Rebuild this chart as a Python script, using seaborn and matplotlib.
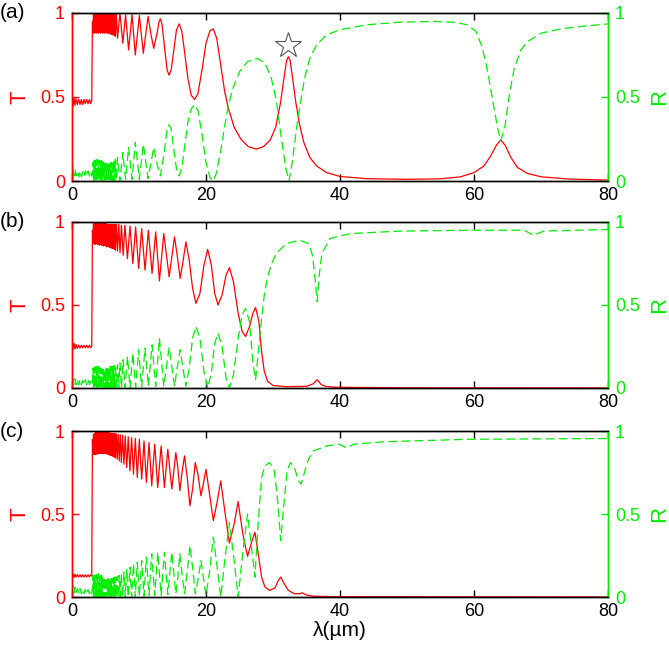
import matplotlib
matplotlib.use("Agg")
import matplotlib.pyplot as plt
import pandas as pd
import seaborn as sns

# ---------------- data ----------------
# shared wavelengths of the unresolved fast-fringe band just above the 3 um edge
band_lam = [3.05,3.13,3.21,3.29,3.37,3.45,3.53,3.61,3.69,3.77,3.85,3.93,4.01,4.09,4.17,4.25,4.33,4.41,4.49,4.57,
            4.65,4.73,4.81,4.89,4.97,5.05,5.13,5.21,5.29,5.37,5.45,5.53,5.61,5.69,5.77,5.85,5.93,6.01,6.09,6.17,
            6.25,6.33,6.41,6.49]

# ---- Panel (a) ----
a_T_pre = [(0,0.43),(0.05,0.51),(0.15,0.445),(0.3,0.495),(0.45,0.45),(0.6,0.49),(0.8,0.455),(1.0,0.485),(1.2,0.455),
           (1.4,0.485),(1.6,0.455),(1.8,0.485),(2.0,0.46),(2.2,0.485),(2.4,0.46),(2.6,0.485),(2.8,0.46),(2.95,0.48)]
a_T_band = [0.95,0.88, 1.0,0.88, 0.99,0.885, 1.0,0.88, 0.995,0.885, 1.0,0.88, 0.99,0.885, 1.0,0.88, 0.995,0.885,
            1.0,0.88, 0.99,0.885, 1.0,0.88, 0.995,0.885, 1.0,0.88, 0.99,0.88, 1.0,0.88, 0.995,0.875, 1.0,0.875,
            0.995,0.87, 1.0,0.87, 0.995,0.865, 1.0,0.86]
a_T_post = [(6.62,0.995),(6.8,0.85),(7.16,1.0),(7.58,0.82),(8.0,0.99),(8.45,0.78),(8.96,0.99),(9.45,0.75),(10.05,0.985),
            (10.65,0.76),(11.35,0.98),(11.8,0.87),(12.2,0.79),(12.7,0.88),(13.0,0.95),(13.2,0.965),(13.45,0.93),
            (13.8,0.80),(14.2,0.66),(14.5,0.63),(14.8,0.66),(15.2,0.78),(15.6,0.90),(16.0,0.935),(16.4,0.89),
            (16.8,0.77),(17.3,0.61),(17.8,0.51),(18.3,0.485),(18.8,0.52),(19.4,0.66),(20.0,0.82),(20.6,0.895),
            (21.1,0.905),(21.6,0.85),(22.2,0.69),(22.8,0.53),(23.3,0.44),(24.2,0.32),(25.2,0.25),(26.3,0.205),
            (27.5,0.19),(28.6,0.205),(29.6,0.245),(30.4,0.32),(31.1,0.46),(31.7,0.63),(32.05,0.72),(32.3,0.74),
            (32.55,0.72),(32.9,0.62),(33.4,0.47),(34.0,0.33),(34.6,0.23),(35.5,0.14),(36.5,0.09),(38,0.05),(40,0.027),
            (44,0.014),(50,0.01),(55,0.013),(58,0.025),(60,0.05),(61.5,0.09),(62.5,0.15),(63.3,0.21),(64.0,0.245),
            (64.7,0.21),(65.5,0.14),(66.5,0.08),(68,0.045),(70,0.025),(74,0.012),(80,0.005)]
a_R_pre = [(0,0.1),(0.05,0.03),(0.15,0.09),(0.3,0.03),(0.45,0.07),(0.6,0.03),(0.8,0.06),(1.0,0.025),(1.2,0.06),
           (1.4,0.025),(1.6,0.055),(1.8,0.03),(2.0,0.06),(2.2,0.03),(2.4,0.06),(2.6,0.03),(2.8,0.055),(2.95,0.03)]
a_R_band = [0.05,0.11, 0.0,0.12, 0.01,0.125, 0.0,0.12, 0.005,0.13, 0.0,0.12, 0.01,0.125, 0.0,0.12, 0.005,0.12,
            0.0,0.115, 0.01,0.11, 0.0,0.11, 0.005,0.1, 0.0,0.105, 0.01,0.1, 0.0,0.1, 0.005,0.105, 0.0,0.11,
            0.005,0.11, 0.0,0.12, 0.005,0.125, 0.0,0.13]
a_R_post = [(6.62,0.005),(6.8,0.14),(7.16,0.0),(7.58,0.17),(8.0,0.01),(8.45,0.2),(8.96,0.01),(9.45,0.23),(10.05,0.01),
            (10.65,0.22),(11.35,0.015),(11.8,0.11),(12.2,0.2),(12.7,0.1),(13.2,0.03),(13.8,0.18),(14.2,0.31),
            (14.5,0.335),(14.8,0.31),(15.2,0.19),(15.6,0.07),(16.0,0.03),(16.4,0.08),(16.8,0.2),(17.3,0.35),
            (17.8,0.43),(18.3,0.455),(18.8,0.42),(19.4,0.28),(20.0,0.11),(20.6,0.02),(21.0,0.0),(21.5,0.04),
            (22.2,0.18),(22.8,0.33),(23.3,0.44),(24.0,0.55),(25.0,0.65),(26.2,0.71),(27.7,0.73),(28.8,0.70),
            (29.7,0.62),(30.5,0.48),(31.2,0.27),(31.9,0.08),(32.4,0.0),(32.9,0.12),(33.5,0.31),(34.0,0.44),
            (34.7,0.61),(35.5,0.73),(36.5,0.81),(38,0.87),(40,0.90),(44,0.93),(49,0.945),(54,0.95),(57,0.945),
            (59,0.93),(60.3,0.89),(61.2,0.80),(62,0.66),(62.8,0.48),(63.5,0.32),(64,0.24),(64.6,0.32),(65.3,0.52),
            (66,0.67),(67,0.78),(68,0.83),(70,0.88),(73,0.905),(76,0.92),(80,0.935)]

# ---- Panel (b) ----
b_T_pre = [(0,0.22),(0.05,0.28),(0.15,0.23),(0.3,0.27),(0.45,0.235),(0.6,0.262),(0.8,0.238),(1.0,0.258),(1.2,0.24),
           (1.4,0.258),(1.6,0.242),(1.8,0.257),(2.0,0.242),(2.2,0.257),(2.4,0.242),(2.6,0.257),(2.8,0.243),(2.95,0.25)]
b_T_band = [0.95,0.87, 0.99,0.87, 0.99,0.865, 0.99,0.87, 0.99,0.865, 0.99,0.865, 0.99,0.86, 0.99,0.865, 0.99,0.86,
            0.99,0.86, 0.99,0.855, 0.99,0.86, 0.99,0.855, 0.99,0.85, 0.985,0.855, 0.985,0.85, 0.985,0.845,
            0.985,0.845, 0.985,0.84, 0.985,0.84, 0.985,0.835, 0.985,0.83]
b_T_post = [(6.63,0.985),(6.8,0.825),(6.98,0.985),(7.17,0.815),(7.38,0.98),(7.64,0.80),(7.9,0.98),(8.28,0.78),
            (8.66,0.975),(9.08,0.75),(9.5,0.97),(9.95,0.72),(10.4,0.96),(10.9,0.71),(11.4,0.95),(11.95,0.69),
            (12.5,0.94),(13.05,0.645),(13.7,0.93),(14.1,0.80),(14.5,0.67),(14.9,0.79),(15.3,0.91),(15.7,0.80),
            (16.15,0.66),(16.6,0.77),(17.0,0.88),(17.5,0.77),(18.0,0.60),(18.5,0.51),(19.1,0.57),(19.7,0.74),
            (20.25,0.835),(20.8,0.74),(21.3,0.57),(21.8,0.50),(22.4,0.56),(23.0,0.68),(23.5,0.725),(24.1,0.64),
            (24.8,0.45),(25.4,0.34),(25.9,0.31),(26.5,0.37),(27.0,0.45),(27.4,0.485),(27.9,0.40),(28.3,0.22),
            (28.7,0.10),(29.2,0.04),(30,0.015),(32,0.008),(35,0.01),(36,0.025),(36.6,0.05),(37.2,0.02),(38,0.008),
            (40,0.004),(50,0.001),(80,0.0)]
b_R_pre = [(0,0.07),(0.05,0.02),(0.15,0.06),(0.3,0.02),(0.45,0.055),(0.6,0.02),(0.8,0.05),(1.0,0.02),(1.2,0.05),
           (1.4,0.02),(1.6,0.045),(1.8,0.02),(2.0,0.05),(2.2,0.02),(2.4,0.05),(2.6,0.02),(2.8,0.045),(2.95,0.025)]
b_R_band = [0.04,0.12, 0.0,0.12, 0.0,0.125, 0.0,0.13, 0.0,0.13, 0.0,0.13, 0.0,0.125, 0.0,0.12, 0.0,0.115, 0.0,0.11,
            0.0,0.11, 0.0,0.11, 0.0,0.115, 0.0,0.12, 0.0,0.12, 0.0,0.125, 0.0,0.13, 0.0,0.13, 0.0,0.13,
            0.0,0.135, 0.0,0.135, 0.0,0.14]
b_R_post = [(6.63,0.0),(6.8,0.14),(6.98,0.0),(7.17,0.15),(7.38,0.0),(7.64,0.17),(7.9,0.0),(8.28,0.19),(8.66,0.0),
            (9.08,0.21),(9.5,0.005),(9.95,0.23),(10.4,0.005),(10.9,0.24),(11.4,0.01),(11.95,0.26),(12.5,0.01),
            (13.05,0.30),(13.7,0.01),(14.1,0.13),(14.5,0.245),(14.9,0.13),(15.3,0.01),(15.7,0.12),(16.15,0.23),
            (16.6,0.11),(17.0,0.01),(17.5,0.12),(18.0,0.30),(18.5,0.37),(19.1,0.30),(19.7,0.10),(20.25,0.0),
            (20.8,0.09),(21.3,0.27),(21.8,0.33),(22.4,0.25),(23.0,0.06),(23.5,0.0),(24.1,0.08),(24.8,0.30),
            (25.4,0.44),(25.9,0.48),(26.5,0.40),(27.0,0.15),(27.4,0.05),(27.9,0.25),(28.3,0.42),(28.7,0.56),
            (29.2,0.67),(29.8,0.75),(30.5,0.81),(32,0.87),(34,0.89),(35.3,0.87),(35.9,0.80),(36.3,0.65),(36.6,0.52),
            (36.9,0.68),(37.3,0.81),(38.5,0.9),(41.5,0.93),(49,0.945),(59,0.95),(67.5,0.95),(68.9,0.92),(70.4,0.945),
            (80,0.955)]

# ---- Panel (c) ----
c_T_pre = [(0,0.15),(0.05,0.11),(0.15,0.14),(0.3,0.118),(0.45,0.137),(0.6,0.12),(0.8,0.135),(1.0,0.12),(1.2,0.134),
           (1.4,0.12),(1.6,0.134),(1.8,0.12),(2.0,0.134),(2.2,0.121),(2.4,0.134),(2.6,0.121),(2.8,0.133),(2.95,0.127)]
c_T_band = [0.95,0.86, 0.98,0.86, 0.985,0.86, 0.99,0.86, 0.99,0.862, 0.99,0.862, 0.99,0.865, 0.99,0.865, 0.99,0.865,
            0.99,0.865, 0.99,0.865, 0.99,0.865, 0.99,0.865, 0.99,0.862, 0.99,0.86, 0.99,0.857, 0.988,0.855,
            0.987,0.852, 0.986,0.85, 0.985,0.846, 0.984,0.842, 0.983,0.838]
c_T_post = [(6.62,0.983),(6.75,0.83),(6.9,0.98),(7.05,0.82),(7.2,0.978),(7.365,0.81),(7.55,0.975),(7.75,0.80),
            (7.95,0.97),(8.175,0.78),(8.4,0.965),(8.65,0.76),(8.9,0.96),(9.175,0.74),(9.45,0.955),(9.75,0.72),
            (10.05,0.95),(10.4,0.71),(10.75,0.94),(11.1,0.69),(11.5,0.93),(11.9,0.67),(12.35,0.92),(12.8,0.66),
            (13.3,0.91),(13.8,0.66),(14.3,0.89),(14.9,0.65),(15.5,0.87),(15.8,0.78),(16.1,0.64),(16.45,0.76),
            (16.8,0.85),(17.2,0.72),(17.6,0.55),(18.0,0.65),(18.4,0.81),(18.8,0.74),(19.25,0.61),(19.6,0.68),
            (20.0,0.77),(20.5,0.63),(21.1,0.46),(21.7,0.58),(22.2,0.70),(22.8,0.52),(23.5,0.325),(24.2,0.44),
            (24.8,0.575),(25.5,0.38),(26.2,0.245),(26.8,0.33),(27.3,0.39),(27.8,0.26),(28.3,0.12),(28.8,0.06),
            (29.5,0.04),(30.3,0.055),(30.8,0.10),(31.15,0.12),(31.6,0.085),(32.3,0.04),(33.2,0.02),(34.0,0.02),
            (34.4,0.025),(35,0.012),(36,0.005),(40,0.002),(80,0.0)]
c_R_pre = [(0,0.09),(0.05,0.02),(0.15,0.07),(0.3,0.025),(0.45,0.06),(0.6,0.025),(0.8,0.05),(1.0,0.02),(1.2,0.05),
           (1.4,0.02),(1.6,0.045),(1.8,0.02),(2.0,0.045),(2.2,0.02),(2.4,0.045),(2.6,0.02),(2.8,0.04),(2.95,0.02)]
c_R_band = [0.06,0.13, 0.005,0.13, 0.0,0.135, 0.0,0.135, 0.0,0.14, 0.0,0.14, 0.0,0.135, 0.0,0.13, 0.0,0.13,
            0.0,0.125, 0.0,0.12, 0.0,0.12, 0.0,0.115, 0.0,0.11, 0.0,0.11, 0.0,0.105, 0.0,0.105, 0.0,0.11,
            0.0,0.11, 0.0,0.115, 0.0,0.12, 0.0,0.12]
c_R_post = [(6.62,0.0),(6.75,0.125),(6.9,0.0),(7.05,0.13),(7.2,0.0),(7.365,0.14),(7.55,0.0),(7.75,0.15),(7.95,0.0),
            (8.175,0.17),(8.4,0.0),(8.65,0.18),(8.9,0.0),(9.175,0.20),(9.45,0.0),(9.75,0.21),(10.05,0.005),
            (10.4,0.22),(10.75,0.005),(11.1,0.24),(11.5,0.01),(11.9,0.26),(12.35,0.01),(12.8,0.27),(13.3,0.01),
            (13.8,0.27),(14.3,0.015),(14.9,0.27),(15.5,0.02),(15.8,0.12),(16.1,0.26),(16.45,0.13),(16.8,0.02),
            (17.2,0.15),(17.6,0.31),(18.0,0.18),(18.4,0.02),(18.8,0.10),(19.25,0.22),(19.6,0.12),(20.0,0.01),
            (20.5,0.14),(21.1,0.36),(21.7,0.17),(22.2,0.0),(22.8,0.22),(23.5,0.45),(24.2,0.22),(24.8,0.0),(25.5,0.27),
            (26.2,0.50),(26.8,0.30),(27.3,0.12),(27.8,0.45),(28.3,0.72),(28.8,0.79),(29.5,0.81),(30.2,0.76),
            (30.7,0.58),(31.15,0.34),(31.6,0.55),(32.1,0.76),(32.6,0.81),(33.2,0.78),(33.8,0.70),(34.2,0.68),
            (34.7,0.75),(35.3,0.83),(36.0,0.88),(38.0,0.91),(40.0,0.92),(41.0,0.897),(42,0.92),(46.5,0.935),
            (59,0.95),(80,0.955)]

panel_labels = ["(a)", "(b)", "(c)"]
x_ticks = [0, 20, 40, 60, 80]
y_ticks = [0, 0.5, 1]
y_ticklabels = ["0", "0.5", "1"]
star_x = [32.3]
star_y = [0.81]


def curve(pre, band_vals, post):
    pts = list(pre) + list(zip(band_lam, band_vals)) + list(post)
    return pd.DataFrame(pts, columns=['lam', 'val'])


panels = [(curve(a_T_pre, a_T_band, a_T_post), curve(a_R_pre, a_R_band, a_R_post)),
          (curve(b_T_pre, b_T_band, b_T_post), curve(b_R_pre, b_R_band, b_R_post)),
          (curve(c_T_pre, c_T_band, c_T_post), curve(c_R_pre, c_R_band, c_R_post))]

# ---------------- figure ----------------
plt.rcParams['font.family'] = ['Liberation Sans', 'DejaVu Sans']
RED = '#ff0000'
GREEN = '#00ee00'

fig = plt.figure(figsize=(6.69, 6.49), dpi=100)
rects = [(0.1076, 0.7211, 0.8012, 0.2589),
         (0.1076, 0.4022, 0.8012, 0.2558),
         (0.1076, 0.0801, 0.8012, 0.2558)]

for i, (rect, (dT, dR)) in enumerate(zip(rects, panels)):
    ax = fig.add_axes(rect)
    ax2 = ax.twinx()
    sns.lineplot(data=dT, x='lam', y='val', ax=ax, color=RED, linewidth=0.9,
                 estimator=None, sort=False)
    sns.lineplot(data=dR, x='lam', y='val', ax=ax2, color=GREEN, linewidth=0.9,
                 estimator=None, sort=False)
    ax2.lines[-1].set_dashes([7, 3.5])

    ax.set_xlim(0, 80)
    ax.set_ylim(0, 1)
    ax2.set_ylim(0, 1)
    ax.set_xticks(x_ticks)
    ax.set_xticklabels([str(t) for t in x_ticks])
    ax.set_yticks(y_ticks)
    ax.set_yticklabels(y_ticklabels)
    ax2.set_yticks(y_ticks)
    ax2.set_yticklabels(y_ticklabels)

    ax.tick_params(axis='x', direction='in', top=True, length=5, width=1,
                   colors='black', labelsize=13, pad=4)
    ax.tick_params(axis='y', direction='in', length=5, width=1, color=RED,
                   labelcolor=RED, labelsize=13, pad=5)
    ax2.tick_params(axis='y', direction='in', length=5, width=1, color=GREEN,
                    labelcolor=GREEN, labelsize=13, pad=5)

    for a in (ax, ax2):
        a.spines['left'].set_color(RED)
        a.spines['right'].set_color(GREEN)
        a.spines['top'].set_color('black')
        a.spines['bottom'].set_color('black')
        for s in a.spines.values():
            s.set_linewidth(1.0)

    ax.set_ylabel('T', color=RED, fontsize=16, va='center', ha='center')
    ax.yaxis.set_label_coords(-0.097, 0.5)
    ax2.set_ylabel('R', color=GREEN, fontsize=16, va='center', ha='center')
    ax2.yaxis.set_label_coords(1.097, 0.5)

    if i == 2:
        ax.set_xlabel('λ(µm)', fontsize=15)
        ax.xaxis.set_label_coords(0.5, -0.145)
    else:
        ax.set_xlabel('')

    top_frac = rect[1] + rect[3]
    fig.text(0.0, top_frac, panel_labels[i], fontsize=15, ha='left', va='center')

    if i == 0:
        ax2.plot(star_x, star_y, marker='*', markersize=19, markerfacecolor='white',
                 markeredgecolor='#555555', markeredgewidth=0.8, linestyle='none', zorder=5)

fig.savefig('out.png', dpi=100)
